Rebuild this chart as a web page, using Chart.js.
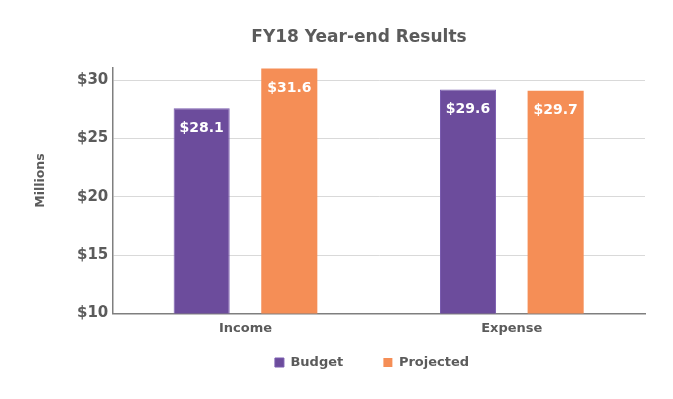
<!DOCTYPE html>
<html>
<head>
<meta charset="utf-8">
<script src="https://cdn.jsdelivr.net/npm/chart.js@4"></script>
<style>
    html, body { margin: 0; padding: 0; background: #fff; }
    #wrap { width: 673px; height: 399px; }
</style>
</head>
<body>
<div id="wrap"><canvas id="chart"></canvas></div>
<script>
// Chart data
const categories = ['Income', 'Expense'];
const seriesNames = ['Budget', 'Projected'];
const budgetValues = [27.6, 29.2];
const projectedValues = [31.0, 29.1];
const budgetLabels = ['$28.1', '$29.6'];
const projectedLabels = ['$31.6', '$29.7'];
const yTicks = [10, 15, 20, 25, 30];
const yTitle = 'Millions';

const textGray = '#5b5b5b';
const font = 'Verdana, "DejaVu Sans", sans-serif';

// White value labels inside the top of each bar
const barLabels = {
    id: 'barLabels',
    afterDatasetsDraw(chart) {
        const ctx = chart.ctx;
        const texts = [budgetLabels, projectedLabels];
        ctx.save();
        ctx.fillStyle = '#ffffff';
        ctx.font = 'bold 14px ' + font;
        ctx.textAlign = 'center';
        ctx.textBaseline = 'middle';
        chart.data.datasets.forEach((ds, i) => {
            const meta = chart.getDatasetMeta(i);
            meta.data.forEach((bar, j) => {
                ctx.fillText(texts[i][j], bar.x, bar.y + 20);
            });
        });
        ctx.restore();
    }
};

// Y axis title sits out in the left margin, so draw it ourselves;
// also nudge the legend a bit right like the original
const sideTitle = {
    id: 'sideTitle',
    afterLayout(chart) {
        chart.legend.left += 13;
        chart.legend.right += 13;
    },
    afterDraw(chart) {
        const ctx = chart.ctx;
        const area = chart.chartArea;
        ctx.save();
        ctx.translate(41, area.top + (area.bottom - area.top) * 0.46);
        ctx.rotate(-Math.PI / 2);
        ctx.fillStyle = textGray;
        ctx.font = 'bold 12.5px ' + font;
        ctx.textAlign = 'center';
        ctx.textBaseline = 'middle';
        ctx.fillText(yTitle, 0, 0);
        ctx.restore();
    }
};

const ctx = document.getElementById('chart').getContext('2d');
new Chart(ctx, {
    type: 'bar',
    data: {
        labels: categories,
        datasets: [
            {
                label: seriesNames[0],
                data: budgetValues,
                backgroundColor: '#6c4c9c',
                borderColor: '#7a5cb0',
                borderWidth: 1
            },
            {
                label: seriesNames[1],
                data: projectedValues,
                backgroundColor: '#f58e56',
                borderColor: '#f58e56',
                borderWidth: 0
            }
        ]
    },
    options: {
        responsive: true,
        maintainAspectRatio: false,
        animation: false,
        categoryPercentage: 0.658,
        barPercentage: 0.64,
        layout: {
            padding: { left: 73, right: 28, top: 0, bottom: 20 }
        },
        scales: {
            x: {
                grid: { display: false, drawTicks: false },
                border: { color: '#7f7f7f', width: 1.5 },
                ticks: {
                    color: textGray,
                    font: { family: font, size: 13, weight: 'bold' },
                    padding: 7
                }
            },
            y: {
                min: 10,
                max: 31.1,
                afterBuildTicks: axis => {
                    axis.ticks = yTicks.map(v => ({ value: v }));
                },
                grid: { color: '#d9d9d9', drawTicks: false },
                border: { color: '#7f7f7f', width: 1.5 },
                ticks: {
                    color: textGray,
                    font: { family: font, size: 15, weight: 'bold' },
                    padding: 4,
                    callback: v => '$' + v
                }
            }
        },
        plugins: {
            title: {
                display: true,
                text: 'FY18 Year-end Results',
                color: textGray,
                font: { family: font, size: 17, weight: 'bold' },
                padding: { top: 27, bottom: 20 }
            },
            legend: {
                position: 'bottom',
                labels: {
                    color: textGray,
                    font: { family: font, size: 13, weight: 'bold' },
                    boxWidth: 9,
                    boxHeight: 9,
                    padding: 13,
                    generateLabels: chart => {
                        const items = Chart.defaults.plugins.legend.labels.generateLabels(chart);
                        items[0].text += '      ';
                        return items;
                    }
                }
            },
            tooltip: { enabled: false }
        }
    },
    plugins: [barLabels, sideTitle]
});
</script>
</body>
</html>
